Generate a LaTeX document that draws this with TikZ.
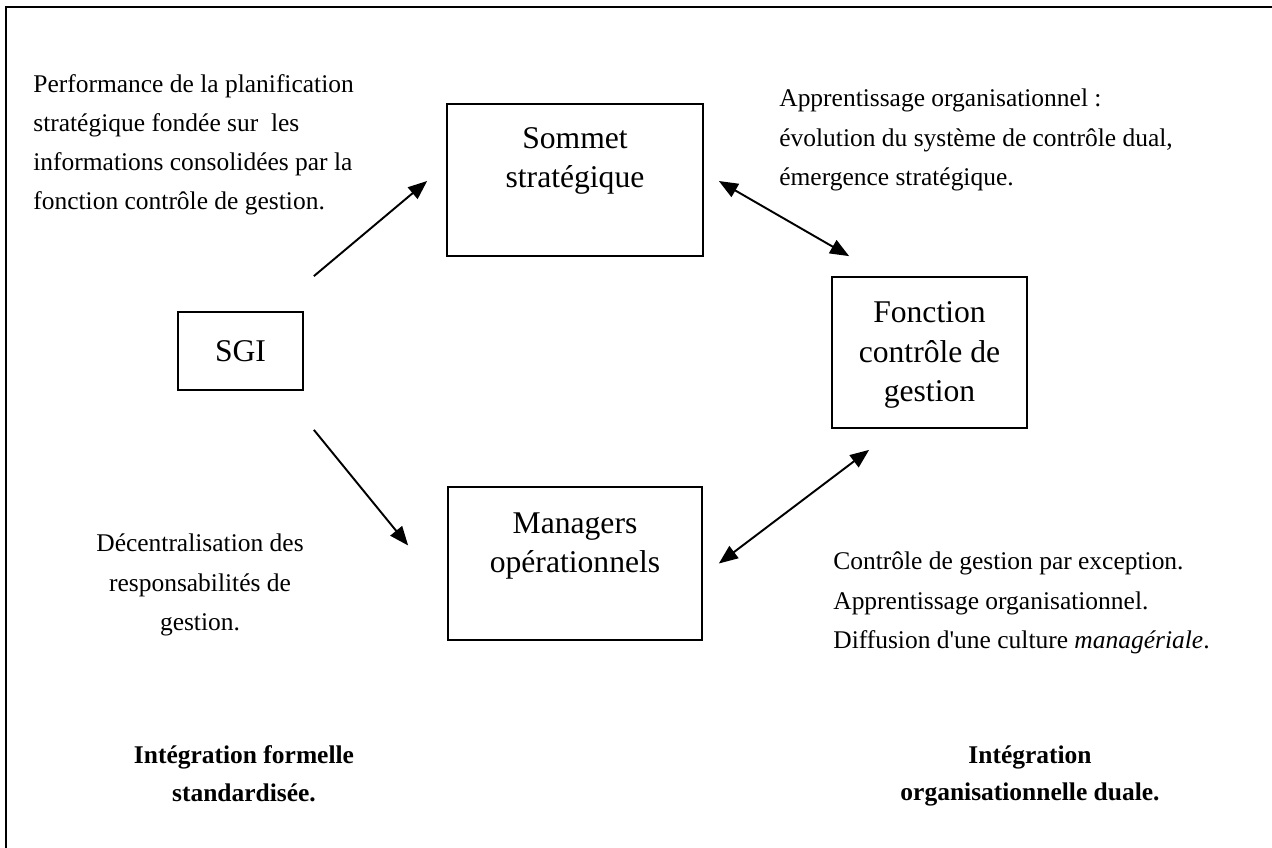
\documentclass[tikz,border=0pt]{standalone}
\usepackage{fontspec}
\setmainfont{Liberation Serif}
\newfontfamily\plainfont{Liberation Serif}
\usetikzlibrary{calc, arrows.meta}

\begin{document}
\begin{tikzpicture}[x=0.02cm, y=-0.02cm,
	box/.style={draw, line width=1pt, inner sep=0pt},
	boxtext/.style={font=\fontsize{18}{22.7}\selectfont, align=center, inner sep=0pt},
	note/.style={font=\fontsize{14.5}{22.3}\selectfont, inner sep=0pt},
	link/.style={line width=1.1pt, -{Triangle[length=0.38cm, width=0.3cm]}},
	dlink/.style={line width=1.1pt, {Triangle[length=0.38cm, width=0.3cm]}-{Triangle[length=0.38cm, width=0.3cm]}}]
	
	\useasboundingbox (0,0) rectangle (1272,848);
	
	% --- FRAME ---
	\draw[line width=1.1pt] (6,848) -- (6,7) -- (1272,7);
	
	% --- BOXES ---
	\node[box, minimum width=5.12cm, minimum height=3.04cm] (Sommet) at (575,180) {};
	\node[boxtext] (SommetText) at (575,161) {Sommet\\stratégique};
	
	\node[box, minimum width=2.5cm, minimum height=1.56cm] (SGI) at (240.5,351) {};
	\node[boxtext] (SGIText) at (240.5,351) {SGI};
	
	\node[box, minimum width=3.9cm, minimum height=3.02cm] (Fonction) at (929.5,352.5) {};
	\node[boxtext] (FonctionText) at (929.5,355) {Fonction\\contrôle de\\gestion};
	
	\node[box, minimum width=5.08cm, minimum height=3.06cm] (Managers) at (575,563.5) {};
	\node[boxtext] (ManagersText) at (575,546) {Managers\\opérationnels};
	
	% --- ARROWS ---
	\draw[link] ($(SGI.north east)+(10,-35)$) -- ($(Sommet.west)+(-19,1)$);
	\draw[dlink] ($(Sommet.east)+(15,1)$) -- ($(Fonction.north west)+(18,-20)$);
	\draw[dlink] ($(Fonction.south west)+(38,21)$) -- ($(Managers.east)+(16,0)$);
	\draw[link] ($(SGI.south east)+(10,39)$) -- ($(Managers.west)+(-39,-18)$);
	
	% --- NOTES ---
	\node[note, anchor=west, align=left] (NoteTL) at (33,145) {Performance de la planification\\stratégique fondée sur\ \ les\\informations consolidées par la\\fonction contrôle de gestion.};
	\node[note, anchor=west, align=left] (NoteTR) at (779,140) {Apprentissage organisationnel :\\évolution du système de contrôle dual,\\émergence stratégique.};
	\node[note, align=center] (NoteBL) at (200,585) {Décentralisation des\\responsabilités de\\gestion.};
	\node[note, anchor=west, align=left] (NoteBR) at (833,603) {Contrôle de gestion par exception.\\Apprentissage organisationnel.\\Diffusion d{\plainfont '}une culture \textit{managériale}.};
	
	% --- CONCLUSIONS ---
	\node[note, font=\fontsize{14.5}{21.5}\selectfont\bfseries, align=center] (IntegFormelle) at (244,774) {Intégration formelle\\standardisée.};
	\node[note, font=\fontsize{14.5}{21.5}\selectfont\bfseries, align=center] (IntegDuale) at (1030,776) {Intégration\\organisationnelle duale.};
	
\end{tikzpicture}
\end{document}
